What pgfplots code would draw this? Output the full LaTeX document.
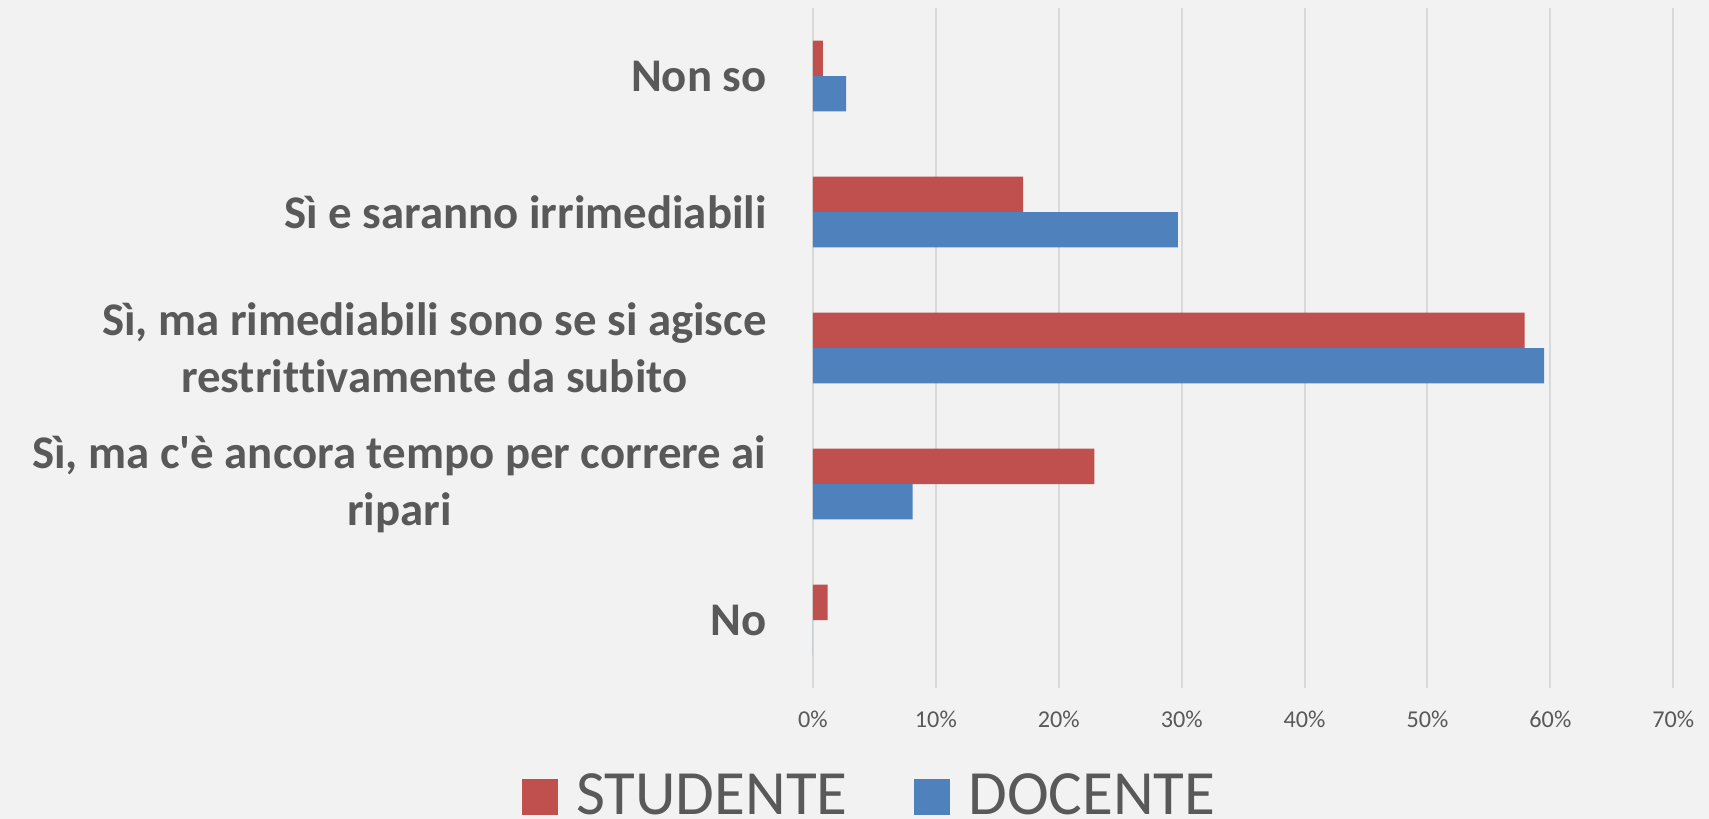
\documentclass[border=0pt]{standalone}
\usepackage{fontspec}
\setmainfont{Carlito}[Ligatures=NoCommon]
\usepackage{pgfplots}
\pgfplotsset{compat=1.18}
\definecolor{bgc}{HTML}{F2F2F2}
\definecolor{gridc}{HTML}{D9D9D9}
\definecolor{txt}{HTML}{595959}
\definecolor{stud}{HTML}{C0504D}
\definecolor{doc}{HTML}{4F81BD}
\begin{document}
\begin{tikzpicture}
\path[use as bounding box, fill=bgc] (-406.5bp,-65.5bp) rectangle (448bp,344bp);
\begin{axis}[
  at={(0,0)}, anchor=south west,
  scale only axis, width=430.15bp, height=340bp,
  xmin=0, xmax=70, ymin=-0.5, ymax=4.5,
  enlargelimits=false,
  xtick={0,10,...,70},
  xticklabels={0\%,10\%,20\%,30\%,40\%,50\%,60\%,70\%},
  ytick={0,1,2,3,4},
  yticklabels={No,{Sì, ma c\textquotesingle è ancora tempo per correre ai\\ripari},{Sì, ma rimediabili sono se si agisce\\restrittivamente da subito},Sì e saranno irrimediabili,Non so},
  xmajorgrids, grid style={gridc, line width=1bp},
  axis line style={draw=none},
  major tick length=0pt, tick style={draw=none},
  xticklabel style={anchor=north, inner sep=0pt, yshift=-11.5bp, text=txt, font=\fontsize{12.1bp}{14bp}\selectfont},
  yticklabel style={anchor=east, inner sep=0pt, xshift=-23bp, align=center, text=txt, font=\fontsize{23.4bp}{28.5bp}\selectfont\bfseries},
  legend style={at={(-0.3385,-0.18676)}, anchor=south west, draw=none, fill=none, inner sep=0pt, outer sep=0pt,
    nodes={inner sep=0pt, text depth=0pt, text=txt}, font=\fontsize{31.5bp}{36bp}\selectfont,
    /tikz/every odd column/.append style={column sep=9.2bp},
    /tikz/every even column/.append style={column sep=33.2bp}},
  legend columns=2, legend cell align=left,
  legend image code/.code={\fill[#1] (0bp,-10.25bp) rectangle (18bp,7.75bp);},
]
\addplot[xbar, bar width=0.261, bar shift=0.1305, fill=stud, draw=none] coordinates {
 (1.2,0) (22.9,1) (57.9,2) (17.1,3) (0.8,4)};
\addlegendentry{STUDENTE}
\addplot[xbar, bar width=0.261, bar shift=-0.1305, fill=doc, draw=none] coordinates {
 (0,0) (8.1,1) (59.5,2) (29.7,3) (2.7,4)};
\addlegendentry{DOCENTE}
\end{axis}
\end{tikzpicture}
\end{document}
